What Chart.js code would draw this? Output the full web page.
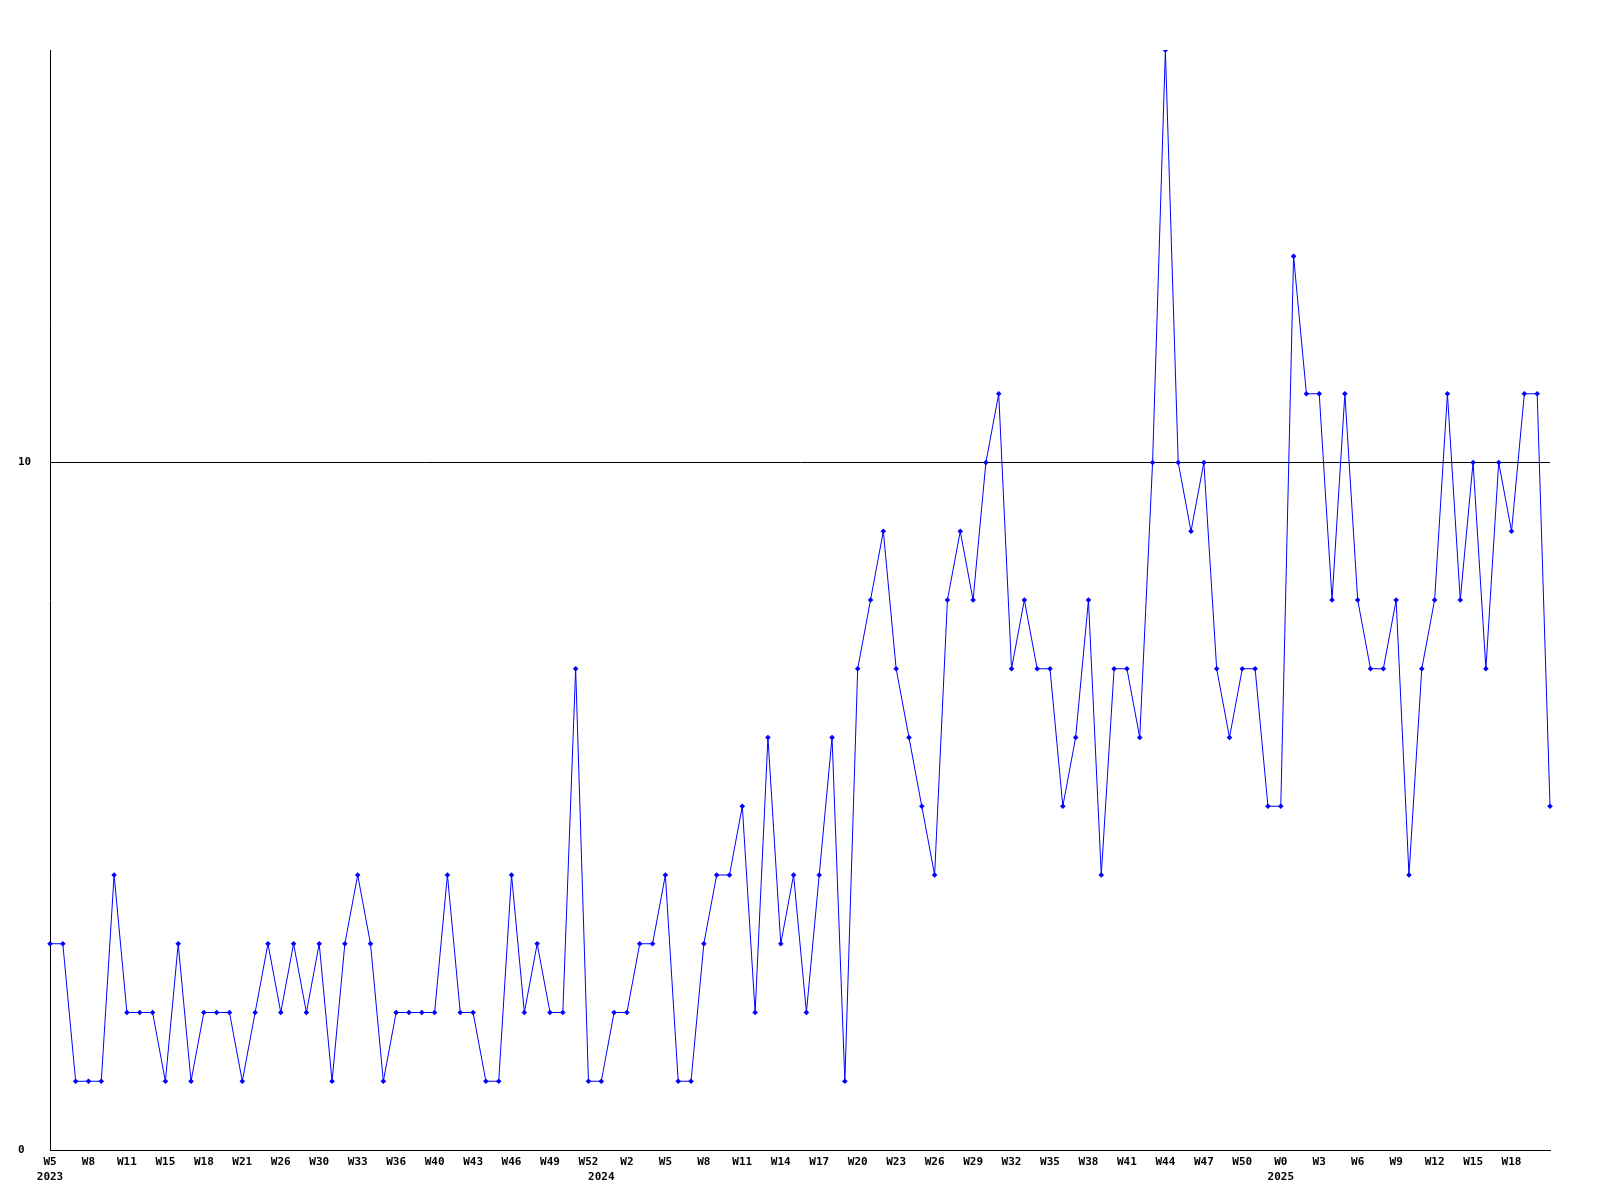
<!DOCTYPE html>
<html>
<head>
<script src="https://cdn.jsdelivr.net/npm/chart.js"></script>
<style>body{margin:0;background:#fff}</style>
</head>
<body>
<canvas id="chart" width="1600" height="1200"></canvas>
<script>
// weekly counts, one per point
const counts = [3,3,1,1,1,4,2,2,2,1, 3,1,2,2,2,1,2,3,2,3,
                2,3,1,3,4,3,1,2,2,2, 2,4,2,2,1,1,4,2,3,2,
                2,7,1,1,2,2,3,3,4,1, 1,3,4,4,5,2,6,3,4,2,
                4,6,1,7,8,9,7,6,5,4, 8,9,8,10,11,7,8,7,7,5,
                6,8,4,7,7,6,10,16,10,9, 10,7,6,7,7,5,5,13,11,11,
                8,11,8,7,7,8,4,7,8,11, 8,10,7,10,9,11,11,5];
// week labels, shown on every 3rd point
const weekTicks = ['W5','W8','W11','W15','W18','W21','W26','W30','W33','W36','W40','W43','W46','W49','W52',
                   'W2','W5','W8','W11','W14','W17','W20','W23','W26','W29','W32','W35','W38','W41','W44','W47','W50',
                   'W0','W3','W6','W9','W12','W15','W18'];
const years = ['2023','2024','2025'];
const yearAt = [0, 43, 96];
const yTicks = [0, 10];

const labels = counts.map((v, i) => i);
const font = {family: 'DejaVu Sans Mono', size: 11, weight: 'bold', lineHeight: 1.4};

new Chart(document.getElementById('chart'), {
    type: 'line',
    data: {
        labels: labels,
        datasets: [{
            data: counts,
            borderColor: '#0000ff',
            backgroundColor: '#0000ff',
            borderWidth: 1,
            tension: 0,
            pointStyle: 'rectRot',
            pointRadius: 2.8,
            pointBorderWidth: 0,
            fill: false
        }]
    },
    options: {
        responsive: false,
        animation: false,
        layout: {padding: {left: 18, top: 50, right: 50, bottom: 0}},
        plugins: {legend: {display: false}, tooltip: {enabled: false}},
        scales: {
            x: {
                grid: {display: false, drawTicks: false},
                border: {display: true, color: '#000', width: 1},
                ticks: {
                    autoSkip: false, maxRotation: 0, minRotation: 0,
                    color: '#000', font: font, padding: 4,
                    callback: function(v, i) {
                        const w = i % 3 === 0 ? weekTicks[i / 3] : '';
                        const y = yearAt.indexOf(i);
                        if (y >= 0) return [w || '', years[y]];
                        return w;
                    }
                },
                afterFit: s => { s.height = 50; }
            },
            y: {
                min: 0, max: 16,
                border: {display: true, color: '#000', width: 1},
                grid: {color: '#000', lineWidth: 1, drawTicks: false},
                afterBuildTicks: s => { s.ticks = yTicks.map(v => ({value: v})); },
                ticks: {color: '#000', font: font, padding: 16, crossAlign: 'far'},
                afterFit: s => { s.width = 32; }
            }
        }
    }
});
</script>
</body>
</html>
